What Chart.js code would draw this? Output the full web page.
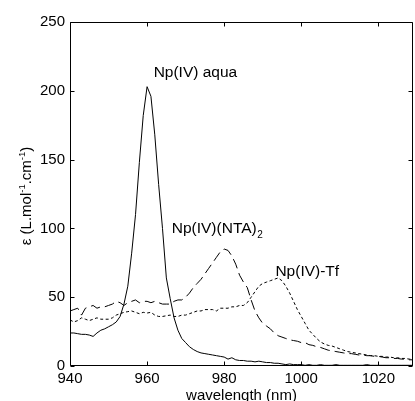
<!DOCTYPE html>
<html>
<head>
<meta charset="utf-8">
<script src="https://cdn.jsdelivr.net/npm/chart.js@4.4.1/dist/chart.umd.min.js"></script>
<style>
  html, body { margin: 0; padding: 0; background: #fff; overflow: hidden; }
  #wrap { width: 415px; height: 401px; }
</style>
</head>
<body>
<div id="wrap"><canvas id="c" width="415" height="401"></canvas></div>
<script>
// wavelength (nm), 940..1029 in 1 nm steps
const wavelength = [
  940,941,942,943,944,945,946,947,948,949,
  950,951,952,953,954,955,956,957,958,959,
  960,961,962,963,964,965,966,967,968,969,
  970,971,972,973,974,975,976,977,978,979,
  980,981,982,983,984,985,986,987,988,989,
  990,991,992,993,994,995,996,997,998,999,
  1000,1001,1002,1003,1004,1005,1006,1007,1008,1009,
  1010,1011,1012,1013,1014,1015,1016,1017,1018,1019,
  1020,1021,1022,1023,1024,1025,1026,1027,1028,1029
];
// Np(IV) aqua (solid)
const aqua = [
  24,24,23.5,23,23,22.5,21.5,24,26,27,
  28.5,30,32,36,45,58,82,110,148,182,
  203,196,168,132,100,64,49,35,26,20,
  17,14,12,10.5,9.5,9,8.5,8,7.5,7,
  6.5,5,6,4.5,4,4,3.5,3.5,3,3.5,
  3,2.5,2.5,2,2,1.5,1,1.5,1,1,
  1,0.5,1,0.5,0.5,1,0.5,0.5,0.5,1,
  0.5,0.5,0.5,0.5,0.5,0.5,0.5,1,0.5,0.5,
  0.5,0.5,0.5,0.5,0.5,0.5,0.5,0.5,0.5,0.5
];
// Np(IV)(NTA)2 (long dash)
const nta = [
  40,41,42,37,42,43,44,42,43,43,
  44,45,47,46,44,46,47,48,46,47,
  47,46,47,46,45,45,45,47,48,48,
  50,53,57,60,63,67,71,75,79,83,
  85,84,80,74,66,61,57,48,40,35,
  31,29,27,24,22,21,20,19,18.5,18,
  17,17,15.5,15,14,13.5,12.5,11.5,11,10.5,
  10,9.5,9,9,8.5,8,8,7.5,7.5,7,
  7,6.5,6,6,5.5,5.5,5,5,4.5,4.5
];
// Np(IV)-Tf (short dash)
const tf = [
  33.5,32,33,35,34,33,34,35,34,34,
  34,35,37,38,39,39.5,40,39,38,39,
  38.5,39,37,36,36,36.5,37,36,36,37,
  37,38,39,40,40,41,41,41,40,42,
  42,42,43,43,44,44,46,50,54,58,
  60,61,62,63,64,62,58,53,47,41,
  36,31,26,23,20,17.5,16,15,14.5,13.5,
  12.5,11.5,10.5,10,9.5,9,8.5,8,7.5,7.5,
  7,7,6.5,6.5,6,6,5.5,5.5,5,5
];
const xTicks = [940, 960, 980, 1000, 1020];
const yTicks = [0, 50, 100, 150, 200, 250];
const curveLabels = [
  { text: 'Np(IV) aqua', sub: '', x: 961.7, y: 209.7 },
  { text: 'Np(IV)(NTA)', sub: '2', x: 966.4, y: 96.6 },
  { text: 'Np(IV)-Tf', sub: '', x: 993.3, y: 65.3 }
];

const FONT = '"Liberation Sans", Arial, Helvetica, sans-serif';

function pts(ys) { return wavelength.map((x, i) => ({ x: x, y: ys[i] })); }

const framePlugin = {
  id: 'frame',
  afterDraw(chart) {
    const ctx = chart.ctx;
    const a = chart.chartArea;
    const xs = chart.scales.x, ys = chart.scales.y;
    const L = Math.round(a.left) + 0.5, R = Math.round(a.right) - 0.5;
    const T = Math.round(a.top) + 0.5, B = Math.round(a.bottom) - 0.5;
    ctx.save();
    ctx.strokeStyle = '#000';
    ctx.lineWidth = 1;
    ctx.beginPath();
    ctx.rect(L, T, R - L, B - T);
    const tl = 4;
    xTicks.forEach(v => {
      const px = Math.round(xs.getPixelForValue(v)) + 0.5;
      ctx.moveTo(px, B); ctx.lineTo(px, B - tl);
      ctx.moveTo(px, T); ctx.lineTo(px, T + tl);
    });
    yTicks.forEach(v => {
      const py = Math.round(ys.getPixelForValue(v)) + 0.5;
      ctx.moveTo(L, py); ctx.lineTo(L + tl, py);
      ctx.moveTo(R, py); ctx.lineTo(R - tl, py);
    });
    ctx.stroke();

    // curve labels
    ctx.fillStyle = '#000';
    ctx.textBaseline = 'alphabetic';
    ctx.textAlign = 'left';
    curveLabels.forEach(l => {
      const px = xs.getPixelForValue(l.x);
      const py = ys.getPixelForValue(l.y);
      ctx.font = '15.5px ' + FONT;
      ctx.fillText(l.text, px, py);
      if (l.sub) {
        const w = ctx.measureText(l.text).width;
        ctx.font = '10px ' + FONT;
        ctx.fillText(l.sub, px + w + 0.5, py + 5);
      }
    });

    // y axis title with superscripts
    const parts = [
      { t: 'ε (L.mol', s: 15, r: 0 },
      { t: '-1', s: 9.5, r: -6 },
      { t: '.cm', s: 15, r: 0 },
      { t: '-1', s: 9.5, r: -6 },
      { t: ')', s: 15, r: 0 }
    ];
    let total = 0;
    parts.forEach(p => { ctx.font = p.s + 'px ' + FONT; p.w = ctx.measureText(p.t).width; total += p.w; });
    ctx.translate(31, (a.top + a.bottom) / 2 + 2);
    ctx.rotate(-Math.PI / 2);
    let x0 = -total / 2;
    parts.forEach(p => {
      ctx.font = p.s + 'px ' + FONT;
      ctx.fillText(p.t, x0, p.r);
      x0 += p.w;
    });
    ctx.restore();
  }
};

new Chart(document.getElementById('c'), {
  type: 'line',
  data: {
    datasets: [
      { label: 'Np(IV) aqua', data: pts(aqua), borderColor: '#000', borderWidth: 1, pointRadius: 0, tension: 0, fill: false },
      { label: 'Np(IV)(NTA)2', data: pts(nta), borderColor: '#000', borderWidth: 1, borderDash: [10, 5], pointRadius: 0, tension: 0, fill: false },
      { label: 'Np(IV)-Tf', data: pts(tf), borderColor: '#000', borderWidth: 1, borderDash: [3, 2.5], pointRadius: 0, tension: 0, fill: false }
    ]
  },
  options: {
    responsive: false,
    animation: false,
    devicePixelRatio: 1,
    layout: { padding: { top: 22, right: 2, left: 0, bottom: 0 } },
    plugins: { legend: { display: false }, tooltip: { enabled: false } },
    scales: {
      x: {
        type: 'linear', min: 940, max: 1029,
        afterBuildTicks(s) { s.ticks = xTicks.map(v => ({ value: v })); },
        afterFit(s) { s.height = 35; },
        grid: { display: false, drawTicks: false },
        border: { display: false },
        ticks: { color: '#000', font: { family: FONT, size: 15 }, padding: 4, maxRotation: 0, autoSkip: false, callback: v => String(v) },
        title: { display: true, text: 'wavelength (nm)', color: '#000', font: { family: FONT, size: 15, lineHeight: 0.7 }, padding: { top: 0, bottom: 0 } }
      },
      y: {
        type: 'linear', min: 0, max: 250,
        afterBuildTicks(s) { s.ticks = yTicks.map(v => ({ value: v })); },
        afterFit(s) { s.width = 70; },
        grid: { display: false, drawTicks: false },
        border: { display: false },
        ticks: { color: '#000', font: { family: FONT, size: 15 }, padding: 5, callback: v => String(v) }
      }
    }
  },
  plugins: [framePlugin]
});
</script>
</body>
</html>
